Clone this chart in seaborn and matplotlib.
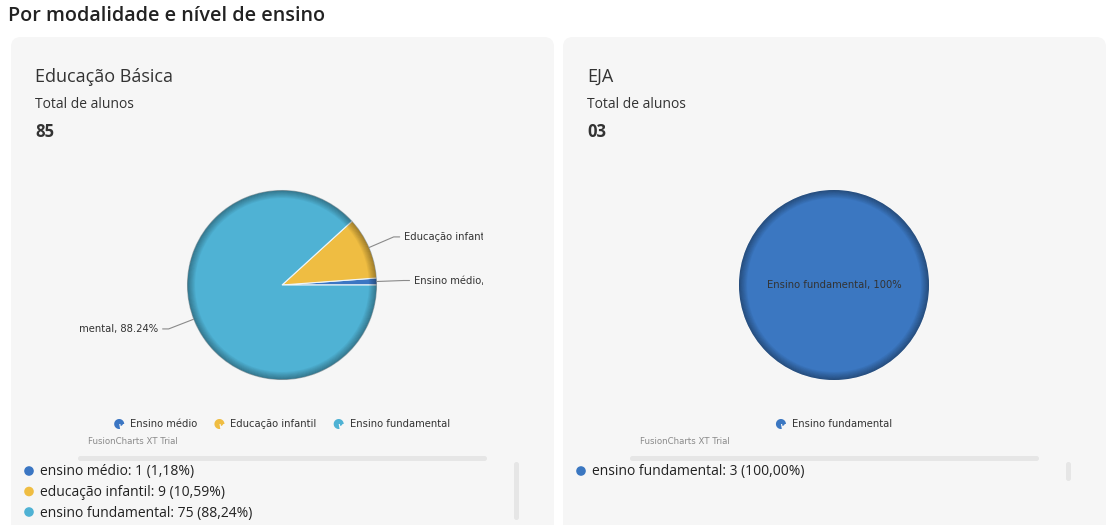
import numpy as np
import matplotlib.pyplot as plt
import seaborn as sns
from matplotlib.patches import FancyBboxPatch, Wedge, Circle

# data
basica_labels = ["Ensino médio", "Educação infantil", "Ensino fundamental"]
basica_values = [1, 9, 75]
basica_colors = ["#3b76c3", "#efbd42", "#4fb2d4"]

eja_labels = ["Ensino fundamental"]
eja_values = [3]
eja_colors = ["#3b77c1"]

sns.set_style("white")
plt.rcParams["font.family"] = ["Open Sans", "DejaVu Sans"]

W, H = 1115, 525
fig = plt.figure(figsize=(W / 100, H / 100), dpi=100)
fig.patch.set_facecolor("white")
renderer = fig.canvas.get_renderer()

# full-figure axes in pixel coordinates (y down)
bg = fig.add_axes([0, 0, 1, 1])
bg.set_xlim(0, W)
bg.set_ylim(H, 0)
bg.axis("off")

bg.text(8, 16, "Por modalidade e nível de ensino", fontsize=14.2, fontweight="semibold",
        color="#222222", va="center", ha="left")

card_bg = "#f6f6f6"
text_dark = "#333333"
chart_font = "DejaVu Sans"


def pct(v, total):
    return 100.0 * v / total


def draw_card(x0, title, labels, values, colors, inside_label=False):
    total = sum(values)
    bg.add_patch(FancyBboxPatch((x0, 37), 543, 520, boxstyle="round,pad=0,rounding_size=10",
                                facecolor=card_bg, edgecolor="none"))
    bg.text(x0 + 24, 77, title, fontsize=13, color=text_dark, va="center")
    bg.text(x0 + 24, 104, "Total de alunos", fontsize=10, color=text_dark, va="center")
    bg.text(x0 + 24, 132, f"{total:02d}", fontsize=12, fontweight="bold", color=text_dark, va="center")

    # pie chart area (clips the outer labels like the original)
    cx, cy, R = x0 + 271, 285, 95
    left, right, top, bottom = x0 + 69, x0 + 472, 160, 410
    ax = fig.add_axes([left / W, 1 - bottom / H, (right - left) / W, (bottom - top) / H])
    wedges, _ = ax.pie(values, colors=colors, startangle=0, counterclock=True,
                       center=(cx, H - cy), radius=R,
                       wedgeprops=dict(edgecolor="#eef6fa", linewidth=0.8 if len(values) > 1 else 0))
    ax.set_aspect("auto")
    ax.set_xlim(left, right)
    ax.set_ylim(H - bottom, H - top)
    ax.axis("off")

    # bevel shading on the rim
    steps = 9
    for i in range(steps):
        r_out = R - i * 0.9
        ax.add_patch(Wedge((cx, H - cy), r_out, 0, 360, width=0.9,
                           facecolor="black", edgecolor="none",
                           alpha=0.36 * (1 - i / steps)))

    if inside_label:
        ax.text(cx, H - cy, f"{labels[0]}, {pct(values[0], total):.0f}%", fontsize=7.2,
                family=chart_font, color=text_dark, ha="center", va="center")
    else:
        for w, lab, v in zip(wedges, labels, values):
            ang = np.deg2rad((w.theta1 + w.theta2) / 2)
            px, py = cx + R * np.cos(ang), H - cy + R * np.sin(ang)
            ex, ey = cx + 1.28 * R * np.cos(ang), H - cy + 1.28 * R * np.sin(ang)
            side = 1 if np.cos(ang) >= 0 else -1
            hx = ex + side * 6
            ax.plot([px, ex, hx], [py, ey, ey], color="#8a8a8a", lw=0.8)
            ax.text(hx + side * 4, ey, f"{lab}, {pct(v, total):.2f}%", fontsize=7.2,
                    family=chart_font, color=text_dark, ha="left" if side > 0 else "right",
                    va="center", clip_on=True)

    # chart legend with small pie icons, centred under the pie
    widths = []
    for lab in labels:
        t = bg.text(0, 0, lab, fontsize=7.2, family=chart_font)
        widths.append(t.get_window_extent(renderer).width)
        t.remove()
    total_w = sum(widths) + 11 * len(widths) + 22 * (len(widths) - 1) + 5
    lx = cx - total_w / 2 + 5
    for lab, c, wdt in zip(labels, colors, widths):
        bg.add_patch(Wedge((lx, 424), 5, 80, 360, facecolor=c, edgecolor="none"))
        bg.add_patch(Wedge((lx + 1, 423), 3, 0, 80, facecolor=c, edgecolor="none"))
        bg.text(lx + 11, 424, lab, fontsize=7.2, family=chart_font, color=text_dark, va="center")
        lx += 11 + wdt + 22
    bg.text(x0 + 77, 441, "FusionCharts XT Trial", fontsize=6.2, family=chart_font,
            color="#8a8a8a", va="center")

    # scrollbars
    bg.add_patch(FancyBboxPatch((x0 + 67, 456), 409, 5, boxstyle="round,pad=0,rounding_size=2.5",
                                facecolor="#e6e6e6", edgecolor="none"))
    bar_h = 58 if len(values) > 1 else 19
    bg.add_patch(FancyBboxPatch((x0 + 503, 462), 5, bar_h, boxstyle="round,pad=0,rounding_size=2.5",
                                facecolor="#e6e6e6", edgecolor="none"))

    # value list
    for i, (lab, v, c) in enumerate(zip(labels, values, colors)):
        y = 471 + i * 20.5
        bg.add_patch(Circle((x0 + 18, y), 4.8, facecolor=c, edgecolor="none"))
        txt = f"{lab.lower()}: {v} ({pct(v, total):.2f}%)".replace(".", ",")
        bg.text(x0 + 29, y + 1, txt, fontsize=10, color="#222222", va="center")


draw_card(11, "Educação Básica", basica_labels, basica_values, basica_colors)
draw_card(563, "EJA", eja_labels, eja_values, eja_colors, inside_label=True)

fig.savefig("out.png", dpi=100, facecolor=fig.get_facecolor())
